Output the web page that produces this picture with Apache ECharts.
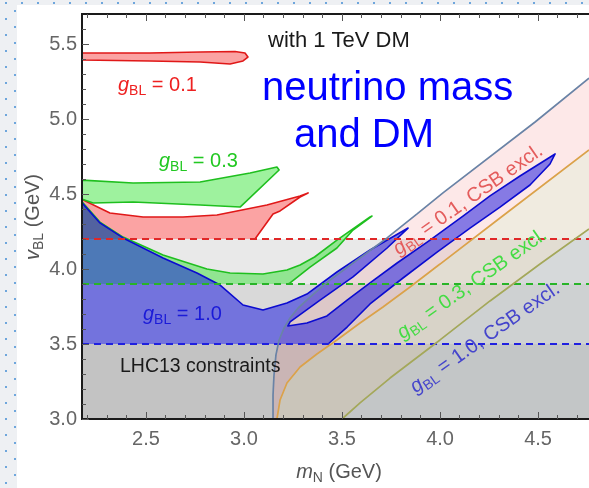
<!DOCTYPE html>
<html><head><meta charset="utf-8">
<script src="https://cdn.jsdelivr.net/npm/echarts@6/dist/echarts.min.js"></script>
<style>
html,body{margin:0;padding:0;}
body{width:589px;height:488px;overflow:hidden;position:relative;background-color:#eef0f3;
background-image:radial-gradient(circle, #6ea6dc 0.9px, rgba(0,0,0,0) 1.5px),radial-gradient(circle, #6ea6dc 0.9px, rgba(0,0,0,0) 1.5px);
background-size:16px 16px,16px 16px;background-position:-2px -5px, 7px 3px;}
#paper{position:absolute;left:17px;top:5px;right:0;bottom:0;background:#fff;}
#chart{position:absolute;left:0;top:0;width:589px;height:488px;}
</style></head><body><div id="paper"></div><div id="chart"></div>
<script>
// ---------- axis ranges & ticks ----------
const X_MIN = 2.1735, X_MAX = 4.76, Y_MIN = 3.0, Y_MAX = 5.7;
const xMajorTicks = [2.5, 3.0, 3.5, 4.0, 4.5];
const xMinorTicks = [2.2,2.3,2.4,2.6,2.7,2.8,2.9,3.1,3.2,3.3,3.4,3.6,3.7,3.8,3.9,4.1,4.2,4.3,4.4,4.6,4.7];
const yMajorTicks = [3.0, 3.5, 4.0, 4.5, 5.0, 5.5];
const yMinorTicks = [3.1,3.2,3.3,3.4,3.6,3.7,3.8,3.9,4.1,4.2,4.3,4.4,4.6,4.7,4.8,4.9,5.1,5.2,5.3,5.4,5.6];

// ---------- LHC13 lower limits on v_BL for g_BL = 0.1, 0.3, 1.0 ----------
const lhcLimits = [4.2, 3.9, 3.5];

// ---------- CSB exclusion boundaries (m_N, v_BL) ----------
const csb01 = [[3.148,3.0],[3.148,3.16],[3.153,3.293],[3.163,3.427],[3.179,3.527],[3.204,3.607],[3.235,3.673],[3.276,3.74],[3.337,3.813],[3.439,3.927],[3.577,4.06],[3.730,4.207],[3.883,4.367],[4.015,4.507],[4.485,4.98],[4.76,5.273]];
const csb03 = [[3.168,3.0],[3.184,3.127],[3.219,3.24],[3.286,3.347],[3.372,3.433],[3.474,3.527],[3.592,3.64],[3.709,3.747],[3.847,3.88],[4.0,4.033],[4.306,4.34],[4.76,4.793]];
const csb10 = [[3.5,3.0],[3.592,3.107],[3.745,3.273],[4.0,3.527],[4.255,3.787],[4.510,4.033],[4.76,4.267]];

// ---------- allowed regions (contours) ----------
// g_BL = 0.1
const red1Edge = [[2.17,5.44],[2.52,5.44],[2.776,5.447],[2.954,5.45],[3.005,5.44],[3.020,5.413],[2.995,5.387],[2.929,5.367],[2.776,5.38],[2.52,5.387],[2.17,5.393],[2.17,5.44]];
const red2Edge = [[2.17,4.467],[2.316,4.373],[2.485,4.347],[2.689,4.347],[2.862,4.36],[3.117,4.427],[3.286,4.487],[3.327,4.507],[3.286,4.48],[3.184,4.387],[3.148,4.367],[3.056,4.2]];
const red2Close = [[2.17,4.2]];
// g_BL = 0.3
const green1Edge = [[2.17,4.593],[2.434,4.573],[2.776,4.58],[3.031,4.64],[3.168,4.68],[3.179,4.66],[2.980,4.413],[2.776,4.427],[2.434,4.447],[2.230,4.44],[2.17,4.467]];
const green2Edge = [[2.17,4.453],[2.265,4.313],[2.383,4.213],[2.587,4.093],[2.811,4.0],[2.929,3.973],[3.097,3.967],[3.219,3.993],[3.286,4.027],[3.36,4.08],[3.474,4.193],[3.643,4.347],[3.653,4.353],[3.556,4.26],[3.474,4.14],[3.337,4.013],[3.235,3.907],[3.225,3.9]];
const green2Close = [[2.17,3.9]];
// g_BL = 1.0
const blueEdge = [[2.17,4.447],[2.265,4.307],[2.383,4.207],[2.587,4.073],[2.760,3.973],[2.878,3.893],[2.995,3.76],[3.097,3.727],[3.219,3.773],[3.321,3.833],[3.474,3.98],[3.643,4.127],[3.837,4.273],
  [3.730,4.14],[3.556,3.947],[3.388,3.793],[3.235,3.647],[3.224,3.62],
  [3.321,3.64],[3.423,3.687],[3.526,3.793],[3.643,3.907],[3.781,4.04],[3.949,4.193],[4.117,4.353],[4.255,4.487],[4.408,4.62],[4.587,4.767],
  [4.561,4.70],[4.459,4.56],[4.306,4.413],[4.153,4.273],[3.985,4.113],[3.811,3.94],[3.643,3.767],[3.526,3.613],[3.429,3.5]];
const blueClose = [[2.17,3.5]];

// ---------- styling ----------
const F = '"Liberation Sans", Arial, sans-serif';
const GRAY = ['rgba(0,0,0,0.085)','rgba(0,0,0,0.07)','rgba(0,0,0,0.1)'];
const DASH = ['#e02828','#28b428','#2020e0'];

function poly(points, edge, fill, stroke, z){
  return {type:'custom', coordinateSystem:'cartesian2d', clip:true, silent:true, z:z,
    data:[points[0]],
    renderItem:function(params, api){
      const ch=[{type:'polygon', shape:{points:points.map(p=>api.coord(p))}, style:{fill:fill, stroke:null}}];
      if(edge) ch.push({type:'polyline', shape:{points:edge.map(p=>api.coord(p))}, style:{fill:null, stroke:stroke, lineWidth:1.6, lineJoin:'round'}});
      return {type:'group', children:ch};
    }};
}

const series=[];
lhcLimits.forEach((lim,i)=>series.push(poly([[X_MIN,Y_MIN],[X_MAX,Y_MIN],[X_MAX,lim],[X_MIN,lim]], null, GRAY[i], null, 1)));
series.push(poly(csb01.concat([[X_MAX,Y_MIN]]), null, 'rgba(240,100,100,0.15)', null, 2));
series.push(poly(csb03.concat([[X_MAX,Y_MIN]]), null, 'rgba(200,245,200,0.25)', null, 2));
series.push(poly(csb10.concat([[X_MAX,Y_MIN]]), null, 'rgba(170,200,245,0.22)', null, 2));
series.push(poly(red1Edge, red1Edge, 'rgba(245,0,0,0.36)', '#e01818', 3));
series.push(poly(red2Edge.concat(red2Close), red2Edge, 'rgba(245,0,0,0.36)', '#e01818', 3));
series.push(poly(green1Edge, green1Edge.concat([green1Edge[0]]), 'rgba(0,220,0,0.38)', '#1fbf1f', 3));
series.push(poly(green2Edge.concat(green2Close), green2Edge, 'rgba(0,220,0,0.38)', '#1fbf1f', 3));
series.push(poly(blueEdge.concat(blueClose), blueEdge, 'rgba(0,0,225,0.47)', '#0b0bd0', 3));
lhcLimits.forEach((lim,i)=>series.push({type:'line', silent:true, z:4, symbol:'none', data:[[X_MIN,lim],[X_MAX,lim]], lineStyle:{color:DASH[i], width:2, type:[7,5]}}));
[[csb01,'#6a83a6'],[csb03,'#dba24a'],[csb10,'#a4a85a']].forEach(c=>series.push({type:'line', silent:true, z:5, symbol:'none', data:c[0], lineStyle:{color:c[1], width:1.7}}));

function xax(pos, ticks, len, labels){
  return {type:'value', min:X_MIN, max:X_MAX, position:pos, z:10,
    axisLine:{show:labels!==null, lineStyle:{color:'#1a1a1a', width:2}},
    axisTick:{show:true, inside:true, length:len, customValues:ticks, lineStyle:{color:'#555', width:1}},
    axisLabel: labels ? {show:true, customValues:ticks, formatter:v=>v.toFixed(1), fontSize:20, color:'#666', fontFamily:F, margin:10} : {show:false},
    splitLine:{show:false}};
}
function yax(ticks, len, labels){
  return {type:'value', min:Y_MIN, max:Y_MAX, position:'left', z:10,
    axisLine:{show:labels, lineStyle:{color:'#1a1a1a', width:2}},
    axisTick:{show:true, inside:true, length:len, customValues:ticks, lineStyle:{color:'#555', width:1}},
    axisLabel: labels ? {show:true, customValues:ticks, formatter:v=>v.toFixed(1), fontSize:20, color:'#666', fontFamily:F, margin:5} : {show:false},
    splitLine:{show:false}};
}

function rich(color, size){
  return {
    i:{fontStyle:'italic', fontSize:size, fill:color, fontFamily:F, lineHeight:size+6},
    s:{fontSize:Math.round(size*0.68), fill:color, fontFamily:F, verticalAlign:'bottom', lineHeight:Math.round(size*0.68)},
    n:{fontSize:size, fill:color, fontFamily:F, lineHeight:size+6}
  };
}
function txt(x, y, text, color, size, align, rot){
  return {type:'text', x:x, y:y, z:100, rotation:rot||0, silent:true,
    style:{text:text, fill:color, fontSize:size, fontFamily:F, align:align||'left', verticalAlign:'middle', rich:rich(color,size)}};
}
const A = 35*Math.PI/180;
const graphics = [
  txt(268, 41, 'with 1 TeV DM', '#1a1a1a', 22),
  txt(262, 89, 'neutrino mass', '#0000ff', 40),
  txt(294, 136, 'and DM', '#0000ff', 40),
  txt(118, 85, '{i|g}{s|BL}{n| = 0.1}', '#ee2020', 20),
  txt(159, 161, '{i|g}{s|BL}{n| = 0.3}', '#22c822', 20),
  txt(143, 314, '{i|g}{s|BL}{n| = 1.0}', '#1a1ad8', 20),
  txt(120, 367, 'LHC13 constraints', '#1a1a1a', 19.5),
  txt(468, 200, '{i|g}{s|BL}{n| = 0.1, CSB excl.}', '#e45c5c', 20, 'center', A),
  txt(472, 284, '{i|g}{s|BL}{n| = 0.3, CSB excl.}', '#44dc44', 20, 'center', A),
  txt(485, 338, '{i|g}{s|BL}{n| = 1.0, CSB excl.}', '#4545cc', 20, 'center', A),
  txt(33, 217, '{i|v}{s|BL}{n| (GeV)}', '#555', 20, 'center', Math.PI/2),
  txt(339, 472, '{i|m}{s|N}{n| (GeV)}', '#555', 20, 'center')
];

const chart = echarts.init(document.getElementById('chart'), null, {renderer:'canvas'});
chart.setOption({
  backgroundColor:'transparent', animation:false,
  grid:{left:82, right:0, top:14, bottom:69, containLabel:false},
  xAxis:[xax('bottom', xMajorTicks, 7, true), xax('bottom', xMinorTicks, 4, false), xax('top', xMajorTicks, 7, false), xax('top', xMinorTicks, 4, false)],
  yAxis:[yax(yMajorTicks, 7, true), yax(yMinorTicks, 4, false)],
  series: series,
  graphic: graphics
});
</script></body></html>
